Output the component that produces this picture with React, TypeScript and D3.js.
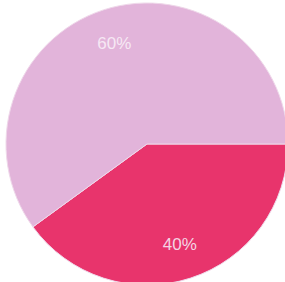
import React from "react";
import * as d3 from "d3";

const categories = ["B", "A"];
const values = [40, 60];
const labels = ["40%", "60%"];
const colors = ["#e8346c", "#e2b4da"];

export default function App() {
  const width = 285;
  const height = 282;
  const cx = 147;
  const cy = 144;
  const r = 141;
  const pie = d3
    .pie<number>()
    .sort(null)
    .startAngle(Math.PI / 2)
    .endAngle(Math.PI / 2 + 2 * Math.PI);
  const arcs = pie(values);
  const arc = d3.arc<d3.PieArcDatum<number>>().innerRadius(0).outerRadius(r);
  const labelArc = d3
    .arc<d3.PieArcDatum<number>>()
    .innerRadius(106)
    .outerRadius(106);
  return (
    <svg
      width={width}
      height={height}
      style={{ position: "absolute", left: 0, top: 0, background: "#ffffff" }}
    >
      <g transform={`translate(${cx},${cy})`}>
        {arcs.map((a, i) => (
          <path
            key={categories[i]}
            d={arc(a) || ""}
            fill={colors[i]}
            stroke="#efd8ea"
            strokeWidth={1}
          />
        ))}
        {arcs.map((a, i) => {
          const [x, y] = labelArc.centroid(a);
          return (
            <text
              key={"l" + i}
              x={x}
              y={y}
              textAnchor="middle"
              dominantBaseline="central"
              fontFamily="'Liberation Sans', Arial, sans-serif"
              fontSize={17}
              fill={i === 0 ? "#f4d4e4" : "#f6e8f4"}
            >
              {labels[i]}
            </text>
          );
        })}
      </g>
    </svg>
  );
}
